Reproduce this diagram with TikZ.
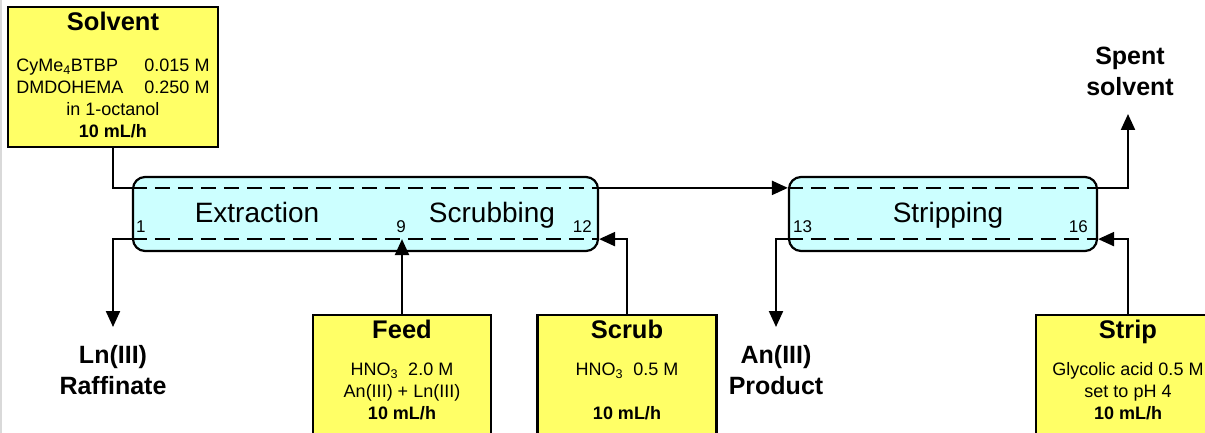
\documentclass[tikz,border=0pt]{standalone}
\usepackage{fontspec}
\setmainfont{Liberation Sans}
\usetikzlibrary{arrows.meta,calc}

\definecolor{feedyellow}{RGB}{255,255,102}
\definecolor{stagecyan}{RGB}{204,255,255}

\newcommand{\rate}{\textbf{10 mL/h}}
\newcommand{\hno}{HNO\textsubscript{3}}

\tikzset{
  every node/.style={inner sep=0pt},
  feedbox/.style={draw, line width=2.2pt, fill=feedyellow, minimum height=150pt},
  bank/.style={draw, line width=2.2pt, fill=stagecyan, rounded corners=12pt,
    minimum height=74pt},
  phase/.style={line width=2.2pt, dash pattern=on 15pt off 8pt},
  pipe/.style={line width=2.2pt},
  flow/.style={pipe, -{Triangle[length=16pt,width=14pt]}},
  boxtitle/.style={font=\fontsize{25.5}{30}\selectfont\bfseries},
  boxtext/.style={font=\fontsize{18}{22}\selectfont},
  banklabel/.style={font=\fontsize{28}{32}\selectfont},
  stageno/.style={font=\fontsize{17}{19}\selectfont},
  outlet/.style={font=\fontsize{25}{31}\selectfont\bfseries},
}

\begin{document}
\begin{tikzpicture}[x=1pt,y=-1pt]
  \useasboundingbox (0,0) rectangle (1205,433);
  \clip (0,0) rectangle (1205,433);
  \draw[black!15, line width=2pt] (1,0) -- (1,433);

  % contactor banks
  \node[bank, minimum width=465pt] (ext) at (365.5,214) {};
  \node[bank, minimum width=308pt] (strp) at (943,214) {};
  \foreach \b in {ext,strp} {
    \coordinate (\b-tl) at ($(\b.north west)+(0,12)$);
    \coordinate (\b-tr) at ($(\b.north east)+(0,12)$);
    \coordinate (\b-bl) at ($(\b.south west)+(0,-13)$);
    \coordinate (\b-br) at ($(\b.south east)+(0,-13)$);
    \draw[phase] (\b-tl) -- (\b-tr) (\b-bl) -- (\b-br);
  }
  \node[banklabel, anchor=base] (extlab) at (257,222) {Extraction};
  \node[banklabel, anchor=base] (scrlab) at (492,222) {Scrubbing};
  \node[banklabel, anchor=base] (strlab) at (948,222) {Stripping};
  \node[stageno, anchor=base west] (n1) at (136,232) {1};
  \node[stageno, anchor=base] (n9) at (401,232) {9};
  \node[stageno, anchor=base east] (n12) at (592,232) {12};
  \node[stageno, anchor=base west] (n13) at (793,232) {13};
  \node[stageno, anchor=base east] (n16) at (1088,232) {16};

  % inlet streams
  \node[feedbox, minimum width=210pt, minimum height=140pt] (solv) at (113,77) {};
  \node[feedbox, minimum width=178pt] (feed) at (402,390) {};
  \node[feedbox, minimum width=179pt] (scrub) at (627,390) {};
  \node[feedbox, minimum width=184pt] (stripin) at (1128,390) {};

  \node[boxtitle, anchor=base] (solvtitle) at ($(solv.north)+(0,25)$) {Solvent};
  \node[boxtext, anchor=base] (solvtxt) at ($(solv.north)+(0,66)$) {%
    \begin{tabular}[t]{@{}l@{\hspace{21pt}}l@{}}
      CyMe\textsubscript{4}BTBP & 0.015 M\\
      DMDOHEMA & 0.250 M\\
      \multicolumn{2}{@{}c@{}}{in 1-octanol}\\
      \multicolumn{2}{@{}c@{}}{\rate}
    \end{tabular}};

  \node[boxtitle, anchor=base] (feedtitle) at ($(feed.north)+(0,25)$) {Feed};
  \node[boxtext, anchor=base] (feedtxt) at ($(feed.north)+(0,62)$) {%
    \begin{tabular}[t]{@{}c@{}}
      \hno~~2.0 M\\ An(III) + Ln(III)\\ \rate
    \end{tabular}};

  \node[boxtitle, anchor=base] (scrubtitle) at ($(scrub.north)+(0,25)$) {Scrub};
  \node[boxtext, anchor=base] (scrubtxt) at ($(scrub.north)+(0,62)$) {%
    \begin{tabular}[t]{@{}c@{}}
      \hno~~0.5 M\\ \\ \rate
    \end{tabular}};

  \node[boxtitle, anchor=base] (striptitle) at ($(stripin.north)+(0,25)$) {Strip};
  \node[boxtext, anchor=base] (striptxt) at ($(stripin.north)+(0,62)$) {%
    \begin{tabular}[t]{@{}c@{}}
      Glycolic acid 0.5 M\\ set to pH 4\\ \rate
    \end{tabular}};

  % outlet streams
  \coordinate (rafftip) at (113,327);
  \coordinate (prodtip) at (776,327);
  \coordinate (spenttip) at (1128,114);
  \node[outlet, anchor=base] (raff) at (113,363)
    {\begin{tabular}[t]{@{}c@{}}Ln(III)\\ Raffinate\end{tabular}};
  \node[outlet, anchor=base] (prod) at (776,363)
    {\begin{tabular}[t]{@{}c@{}}An(III)\\ Product\end{tabular}};
  \node[outlet, anchor=base] (spent) at (1130,65)
    {\begin{tabular}[t]{@{}c@{}}Spent\\ solvent\end{tabular}};

  \draw[pipe] (solv.south) |- (ext-tl);
  \draw[flow] (ext-tr) -- (strp-tl);
  \draw[flow] (strp-tr) -| (spenttip);
  \draw[flow] (ext-bl) -| (rafftip);
  \draw[flow] (strp-bl) -| (prodtip);
  \draw[flow] (feed.north) -- (feed.north |- ext-bl);
  \draw[flow] (scrub.north) |- (ext-br);
  \draw[flow] (stripin.north) |- (strp-br);
\end{tikzpicture}
\end{document}
